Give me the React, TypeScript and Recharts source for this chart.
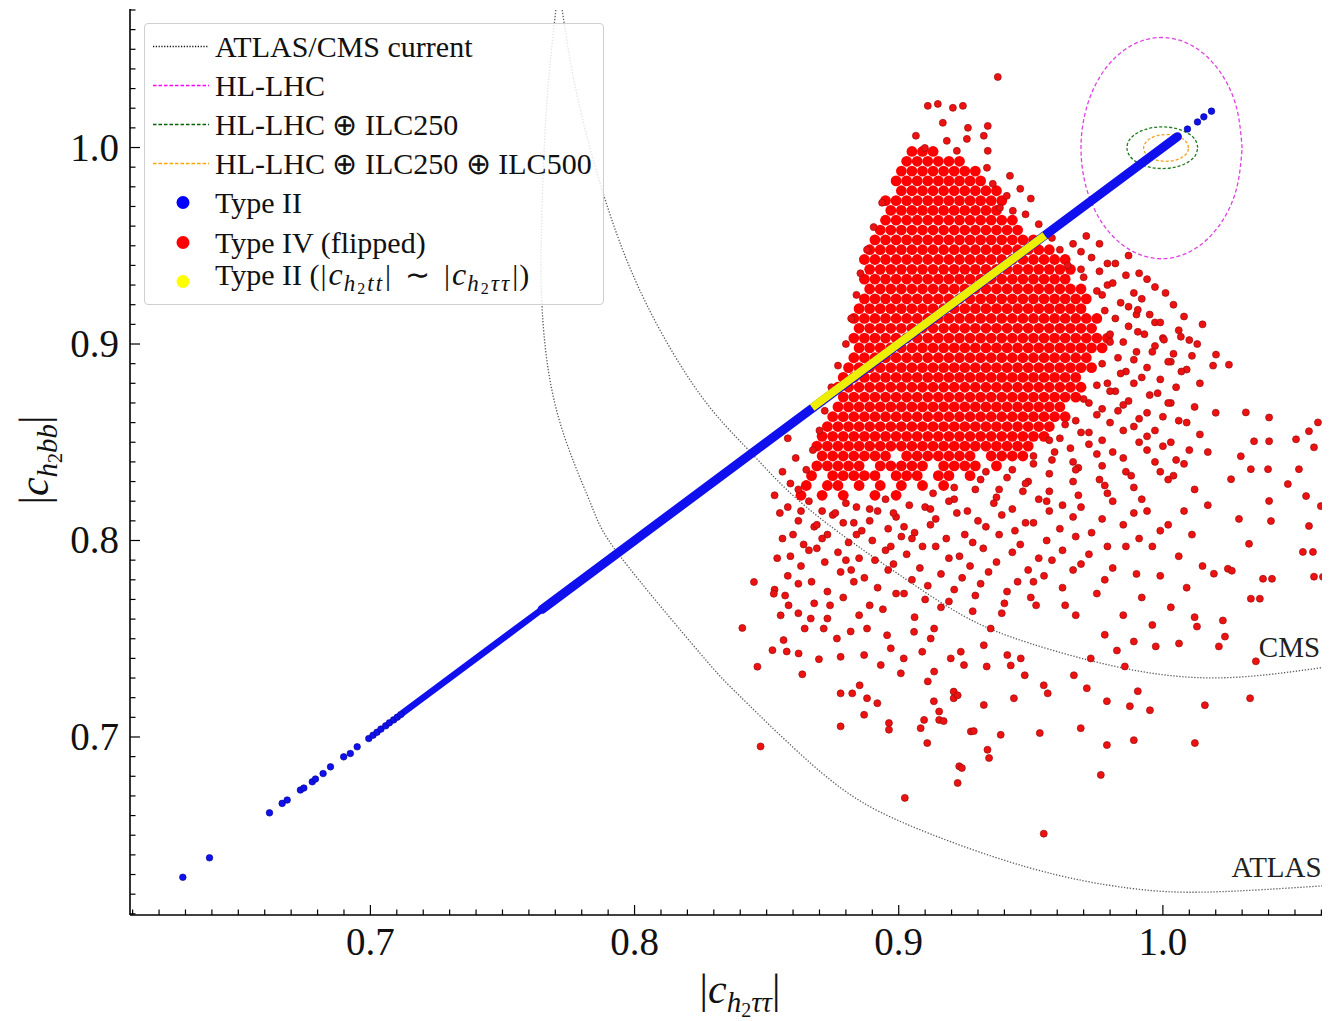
import React from 'react';
import { ComposedChart, Scatter, Line, XAxis, YAxis } from 'recharts';

const FONT = '"Liberation Serif", "Times New Roman", Times, serif';

// ---------- axes ----------
const xDomain: [number, number] = [0.609, 1.0625];
const yDomain: [number, number] = [0.6094, 1.0705];
const majorTicks = [0.7, 0.8, 0.9, 1.0];
const xTickValues = [0.61, 0.62, 0.63, 0.64, 0.65, 0.66, 0.67, 0.68, 0.69, 0.7, 0.71, 0.72, 0.73, 0.74, 0.75, 0.76, 0.77, 0.78, 0.79, 0.8, 0.81, 0.82, 0.83, 0.84, 0.85, 0.86, 0.87, 0.88, 0.89, 0.9, 0.91, 0.92, 0.93, 0.94, 0.95, 0.96, 0.97, 0.98, 0.99, 1.0, 1.01, 1.02, 1.03, 1.04, 1.05, 1.06];
const yTickValues = [0.61, 0.62, 0.63, 0.64, 0.65, 0.66, 0.67, 0.68, 0.69, 0.7, 0.71, 0.72, 0.73, 0.74, 0.75, 0.76, 0.77, 0.78, 0.79, 0.8, 0.81, 0.82, 0.83, 0.84, 0.85, 0.86, 0.87, 0.88, 0.89, 0.9, 0.91, 0.92, 0.93, 0.94, 0.95, 0.96, 0.97, 0.98, 0.99, 1.0, 1.01, 1.02, 1.03, 1.04, 1.05, 1.06, 1.07];

// ---------- current ATLAS / CMS contours ----------
const atlasCurve: [number, number][] = [
  [0.7702, 1.07], [0.7672, 1.03], [0.7655, 0.99], [0.7647, 0.953], [0.7651, 0.916], [0.7707, 0.8651],
  [0.7832, 0.8194], [0.7946, 0.7919], [0.8248, 0.7426], [0.8403, 0.7202], [0.871, 0.6816], [0.902, 0.6562],
  [0.9485, 0.6338], [0.9871, 0.6231], [1.0177, 0.6211], [1.0623, 0.6244],
];
const cmsCurve: [number, number][] = [
  [0.7726, 1.07], [0.7787, 1.0237], [0.79, 0.9688], [0.8048, 0.9195], [0.8248, 0.8743], [0.8426, 0.8468],
  [0.86, 0.8229], [0.8815, 0.8], [0.9005, 0.7823], [0.9243, 0.7618], [0.9496, 0.7477], [0.9852, 0.735],
  [1.0222, 0.7301], [1.0623, 0.7357],
];
const curveLabels = [
  { x: 1.0595, y: 0.7406, label: 'CMS' },
  { x: 1.0601, y: 0.6287, label: 'ATLAS' },
];

// ---------- future projections (closed contours) ----------
const hlLhcContour: [number, number][] = [
  [1.03, 0.9997], [1.0277, 1.0212], [1.0211, 1.0395], [1.0112, 1.0517], [0.9995, 1.056], [0.9878, 1.0517],
  [0.9779, 1.0395], [0.9713, 1.0212], [0.969, 0.9997], [0.9713, 0.9782], [0.9779, 0.9599], [0.9878, 0.9477],
  [0.9995, 0.9434], [1.0112, 0.9477], [1.0211, 0.9599], [1.0277, 0.9782], [1.03, 0.9997],
];
const ilc250Contour: [number, number][] = [
  [1.0132, 0.9999], [1.0122, 1.004], [1.0093, 1.0074], [1.005, 1.0097], [0.9998, 1.0105], [0.9946, 1.0097],
  [0.9903, 1.0074], [0.9874, 1.004], [0.9864, 0.9999], [0.9874, 0.9958], [0.9903, 0.9924], [0.9946, 0.9901],
  [0.9998, 0.9893], [1.005, 0.9901], [1.0093, 0.9924], [1.0122, 0.9958], [1.0132, 0.9999],
];
const ilc500Contour: [number, number][] = [
  [1.0097, 0.9998], [1.0091, 1.0024], [1.0072, 1.0046], [1.0045, 1.0061], [1.0012, 1.0066], [0.9979, 1.0061],
  [0.9952, 1.0046], [0.9934, 1.0024], [0.9927, 0.9998], [0.9934, 0.9972], [0.9952, 0.995], [0.9979, 0.9935],
  [1.0012, 0.993], [1.0045, 0.9935], [1.0072, 0.995], [1.0091, 0.9972], [1.0097, 0.9998],
];

// ---------- Type II ----------
const typeIIBandLower: [number, number][] = [[0.712, 0.712], [0.765, 0.765]];
const typeIIBandUpper: [number, number][] = [[0.765, 0.765], [1.0055, 1.0055]];
const typeIIPoints: [number, number][] = [
  [0.629, 0.6286], [0.6391, 0.6385], [0.6618, 0.6614], [0.6666, 0.6662], [0.6685, 0.6679], [0.6735, 0.673],
  [0.6748, 0.674], [0.678, 0.6772], [0.6792, 0.6786], [0.6821, 0.6814], [0.6849, 0.6848], [0.6899, 0.6899],
  [0.6924, 0.6916], [0.695, 0.695], [0.6994, 0.6992], [0.701, 0.7009], [0.7025, 0.7024], [0.704, 0.704],
  [0.7058, 0.7057], [0.7072, 0.7072], [0.7088, 0.7087], [0.7102, 0.7101], [0.7115, 0.7114],
  [1.0093, 1.0094], [1.0131, 1.013], [1.0155, 1.0156], [1.0184, 1.0185],
];
// Type II with |c_h2tt| ~ |c_h2tautau|
const typeIISpecialBand: [number, number][] = [[0.8672, 0.8677], [0.9553, 0.9553]];

// ---------- Type IV (flipped) ----------
// dense core, rows of [|c_h2bb|, list of |c_h2tautau|]
const typeIVCoreRows: [number, number[]][] = [
  [0.998, [0.905, 0.909, 0.913]],
  [0.993, [0.903, 0.907, 0.911, 0.915, 0.919, 0.923]],
  [0.988, [0.901, 0.905, 0.909, 0.913, 0.917, 0.921, 0.925, 0.929]],
  [0.983, [0.899, 0.903, 0.907, 0.911, 0.915, 0.919, 0.923, 0.927, 0.931]],
  [0.978, [0.901, 0.905, 0.909, 0.913, 0.917, 0.921, 0.925, 0.929, 0.933, 0.937]],
  [0.973, [0.895, 0.899, 0.903, 0.907, 0.911, 0.915, 0.919, 0.923, 0.927, 0.931, 0.935, 0.939]],
  [0.968, [0.897, 0.901, 0.905, 0.909, 0.913, 0.917, 0.921, 0.925, 0.929, 0.933, 0.937]],
  [0.963, [0.895, 0.899, 0.903, 0.907, 0.911, 0.915, 0.919, 0.923, 0.927, 0.931, 0.935, 0.939, 0.943]],
  [0.958, [0.893, 0.897, 0.901, 0.905, 0.909, 0.913, 0.917, 0.921, 0.925, 0.929, 0.933, 0.937, 0.941, 0.945]],
  [0.953, [0.891, 0.895, 0.899, 0.903, 0.907, 0.911, 0.915, 0.919, 0.923, 0.927, 0.931, 0.935, 0.939, 0.943, 0.947, 0.951]],
  [0.948, [0.889, 0.893, 0.897, 0.901, 0.905, 0.909, 0.913, 0.917, 0.921, 0.925, 0.929, 0.933, 0.937, 0.941, 0.945, 0.949, 0.953, 0.957]],
  [0.943, [0.887, 0.891, 0.895, 0.899, 0.903, 0.907, 0.911, 0.915, 0.919, 0.923, 0.927, 0.931, 0.935, 0.939, 0.943, 0.947, 0.951, 0.955, 0.959, 0.963]],
  [0.938, [0.889, 0.893, 0.897, 0.901, 0.905, 0.909, 0.913, 0.917, 0.921, 0.925, 0.929, 0.933, 0.937, 0.941, 0.945, 0.949, 0.953, 0.957, 0.961, 0.965]],
  [0.933, [0.887, 0.891, 0.895, 0.899, 0.903, 0.907, 0.911, 0.915, 0.919, 0.923, 0.927, 0.931, 0.935, 0.939, 0.943, 0.947, 0.951, 0.955, 0.959, 0.963]],
  [0.928, [0.889, 0.893, 0.897, 0.901, 0.905, 0.909, 0.913, 0.917, 0.921, 0.925, 0.929, 0.933, 0.937, 0.941, 0.945, 0.949, 0.953, 0.957, 0.961, 0.965, 0.969]],
  [0.923, [0.887, 0.891, 0.895, 0.899, 0.903, 0.907, 0.911, 0.915, 0.919, 0.923, 0.927, 0.931, 0.935, 0.939, 0.943, 0.947, 0.951, 0.955, 0.959, 0.963, 0.967, 0.971]],
  [0.918, [0.885, 0.889, 0.893, 0.897, 0.901, 0.905, 0.909, 0.913, 0.917, 0.921, 0.925, 0.929, 0.933, 0.937, 0.941, 0.945, 0.949, 0.953, 0.957, 0.961, 0.965, 0.969]],
  [0.913, [0.883, 0.887, 0.891, 0.895, 0.899, 0.903, 0.907, 0.911, 0.915, 0.919, 0.923, 0.927, 0.931, 0.935, 0.939, 0.943, 0.947, 0.951, 0.955, 0.959, 0.963, 0.967, 0.971, 0.975]],
  [0.908, [0.885, 0.889, 0.893, 0.897, 0.901, 0.905, 0.909, 0.913, 0.917, 0.921, 0.925, 0.929, 0.933, 0.937, 0.941, 0.945, 0.949, 0.953, 0.957, 0.961, 0.965, 0.969, 0.973]],
  [0.903, [0.883, 0.887, 0.891, 0.895, 0.899, 0.903, 0.907, 0.911, 0.915, 0.919, 0.923, 0.927, 0.931, 0.935, 0.939, 0.943, 0.947, 0.951, 0.955, 0.959, 0.963, 0.967, 0.971, 0.975, 0.979]],
  [0.898, [0.885, 0.889, 0.893, 0.897, 0.901, 0.905, 0.909, 0.913, 0.917, 0.921, 0.925, 0.929, 0.933, 0.937, 0.941, 0.945, 0.949, 0.953, 0.957, 0.961, 0.965, 0.969, 0.973, 0.977]],
  [0.893, [0.883, 0.887, 0.891, 0.895, 0.899, 0.903, 0.907, 0.911, 0.915, 0.919, 0.923, 0.927, 0.931, 0.935, 0.939, 0.943, 0.947, 0.951, 0.955, 0.959, 0.963, 0.967, 0.971]],
  [0.888, [0.881, 0.885, 0.889, 0.893, 0.897, 0.901, 0.905, 0.909, 0.913, 0.917, 0.921, 0.925, 0.929, 0.933, 0.937, 0.941, 0.945, 0.949, 0.953, 0.957, 0.961, 0.965, 0.969, 0.973]],
  [0.883, [0.879, 0.883, 0.887, 0.891, 0.895, 0.899, 0.903, 0.907, 0.911, 0.915, 0.919, 0.923, 0.927, 0.931, 0.935, 0.939, 0.943, 0.947, 0.951, 0.955, 0.959, 0.963, 0.967]],
  [0.878, [0.877, 0.881, 0.885, 0.889, 0.893, 0.897, 0.901, 0.905, 0.909, 0.913, 0.917, 0.921, 0.925, 0.929, 0.933, 0.937, 0.941, 0.945, 0.949, 0.953, 0.957, 0.961, 0.965, 0.969]],
  [0.873, [0.879, 0.883, 0.887, 0.891, 0.895, 0.899, 0.903, 0.907, 0.911, 0.915, 0.919, 0.923, 0.927, 0.931, 0.935, 0.939, 0.943, 0.947, 0.951, 0.955, 0.959, 0.963, 0.967]],
  [0.868, [0.877, 0.881, 0.885, 0.889, 0.893, 0.897, 0.901, 0.905, 0.909, 0.913, 0.917, 0.921, 0.925, 0.929, 0.933, 0.937, 0.941, 0.945, 0.949, 0.953, 0.957, 0.961]],
  [0.863, [0.875, 0.879, 0.883, 0.887, 0.891, 0.895, 0.899, 0.903, 0.907, 0.911, 0.915, 0.919, 0.923, 0.927, 0.931, 0.935, 0.939, 0.943, 0.947, 0.951, 0.955, 0.959, 0.963]],
  [0.858, [0.873, 0.877, 0.881, 0.885, 0.889, 0.893, 0.897, 0.901, 0.905, 0.909, 0.913, 0.917, 0.921, 0.925, 0.929, 0.933, 0.937, 0.941, 0.945, 0.949, 0.953, 0.957]],
  [0.853, [0.871, 0.875, 0.879, 0.883, 0.887, 0.891, 0.895, 0.899, 0.903, 0.907, 0.911, 0.915, 0.919, 0.923, 0.927, 0.931, 0.935, 0.939, 0.943, 0.947, 0.951, 0.955]],
  [0.848, [0.869, 0.873, 0.877, 0.881, 0.885, 0.889, 0.893, 0.897, 0.901, 0.905, 0.909, 0.913, 0.917, 0.921, 0.925, 0.929, 0.933, 0.937, 0.941, 0.945, 0.949]],
  [0.843, [0.871, 0.875, 0.879, 0.883, 0.887, 0.891, 0.895, 0.903, 0.907, 0.911, 0.915, 0.919, 0.923, 0.927, 0.935, 0.939, 0.943, 0.947]],
  [0.838, [0.869, 0.873, 0.877, 0.881, 0.885, 0.893, 0.897, 0.901, 0.905, 0.909, 0.917, 0.921, 0.925, 0.929, 0.937]],
  [0.833, [0.867, 0.875, 0.879, 0.883, 0.887, 0.891, 0.899, 0.903, 0.907, 0.915, 0.919, 0.927]],
  [0.828, [0.865, 0.873, 0.877, 0.885, 0.893, 0.901, 0.909, 0.917]],
  [0.823, [0.863, 0.871, 0.879, 0.891, 0.899]],
];

// medium-density fringe [|c_h2tautau|, |c_h2bb|]
const typeIVFringe: [number, number][] = [
  [0.958, 0.954], [0.966, 0.951], [0.971, 0.955], [0.961, 0.948], [0.969, 0.947], [0.976, 0.951],
  [0.964, 0.94], [0.973, 0.944], [0.979, 0.941], [0.987, 0.945], [0.969, 0.938], [0.976, 0.937],
  [0.982, 0.941], [0.991, 0.936], [0.97, 0.934], [0.979, 0.93], [0.986, 0.935], [0.994, 0.933],
  [0.975, 0.927], [0.981, 0.931], [0.989, 0.926], [0.997, 0.929], [0.977, 0.925], [0.984, 0.921],
  [0.992, 0.923], [1.001, 0.926], [0.978, 0.917], [0.987, 0.919], [0.995, 0.915], [1.004, 0.92],
  [0.982, 0.913], [0.99, 0.915], [0.997, 0.911], [1.008, 0.914], [0.98, 0.905], [0.987, 0.909],
  [0.999, 0.911], [1.006, 0.907], [1.015, 0.91], [0.985, 0.901], [0.993, 0.905], [1.0, 0.903],
  [1.01, 0.902], [0.98, 0.901], [0.99, 0.896], [0.997, 0.899], [1.004, 0.895], [1.013, 0.9],
  [0.983, 0.893], [0.989, 0.892], [0.996, 0.896], [1.003, 0.891], [1.011, 0.894], [0.977, 0.89],
  [0.986, 0.886], [0.994, 0.888], [1.002, 0.891], [1.009, 0.887], [1.019, 0.889], [0.979, 0.88],
  [0.984, 0.885], [0.992, 0.883], [0.999, 0.882], [1.007, 0.886], [0.975, 0.879], [0.982, 0.876],
  [0.989, 0.88], [0.998, 0.875], [1.005, 0.878], [1.014, 0.88], [0.97, 0.872], [0.98, 0.876],
  [0.987, 0.871], [0.995, 0.874], [1.003, 0.87], [0.972, 0.87], [0.977, 0.867], [0.985, 0.869],
  [0.994, 0.865], [1.002, 0.87], [1.012, 0.868], [0.967, 0.861], [0.975, 0.864], [0.983, 0.866],
  [0.991, 0.862], [1.0, 0.863], [1.009, 0.86], [1.02, 0.865], [0.963, 0.859], [0.972, 0.855],
  [0.98, 0.86], [0.989, 0.858], [0.997, 0.856], [1.006, 0.861], [0.961, 0.852], [0.969, 0.855],
  [0.977, 0.851], [0.985, 0.856], [0.994, 0.853], [1.003, 0.85], [1.014, 0.854], [0.957, 0.851],
  [0.965, 0.847], [0.972, 0.849], [0.981, 0.845], [0.991, 0.85], [1.0, 0.848], [1.01, 0.846],
  [0.951, 0.843], [0.959, 0.845], [0.966, 0.84], [0.975, 0.844], [0.985, 0.842], [0.994, 0.846],
  [1.005, 0.841], [1.017, 0.845], [0.943, 0.836], [0.951, 0.839], [0.958, 0.841], [0.968, 0.837],
  [0.977, 0.838], [0.986, 0.835], [0.997, 0.84], [1.008, 0.839], [0.933, 0.835], [0.941, 0.832],
  [0.949, 0.83], [0.957, 0.834], [0.967, 0.836], [0.976, 0.831], [0.988, 0.833], [0.999, 0.835],
  [0.921, 0.827], [0.931, 0.831], [0.938, 0.826], [0.948, 0.829], [0.957, 0.825], [0.966, 0.83],
  [0.978, 0.828], [0.989, 0.827], [1.002, 0.831], [0.913, 0.824], [0.921, 0.821], [0.929, 0.826],
  [0.937, 0.822], [0.947, 0.825], [0.956, 0.82], [0.968, 0.823], [0.979, 0.824], [0.992, 0.821],
  [0.858, 0.817], [0.866, 0.82], [0.871, 0.815], [0.88, 0.819], [0.889, 0.816], [0.895, 0.821],
  [0.904, 0.818], [0.91, 0.817], [0.919, 0.82], [0.926, 0.815], [0.936, 0.819], [0.943, 0.816],
  [0.953, 0.821], [0.962, 0.818], [0.969, 0.817], [0.981, 0.82], [0.994, 0.815],
  [0.855, 0.814], [0.862, 0.81], [0.875, 0.813], [0.883, 0.809], [0.892, 0.815], [0.899, 0.812],
  [0.914, 0.811], [0.922, 0.814], [0.93, 0.81], [0.939, 0.813], [0.948, 0.809], [0.957, 0.815],
  [0.966, 0.812], [0.977, 0.811], [0.989, 0.814],
  [0.86, 0.803], [0.868, 0.807], [0.879, 0.809], [0.886, 0.805], [0.896, 0.806], [0.906, 0.804],
  [0.912, 0.808], [0.925, 0.803], [0.933, 0.807], [0.944, 0.805], [0.951, 0.809], [0.961, 0.806],
  [0.973, 0.804], [0.985, 0.808], [0.999, 0.805],
  [0.856, 0.801], [0.864, 0.798], [0.873, 0.803], [0.881, 0.799], [0.89, 0.8], [0.901, 0.802],
  [0.909, 0.797], [0.918, 0.801], [0.928, 0.799], [0.938, 0.803], [0.946, 0.798], [0.956, 0.8],
  [0.967, 0.802], [0.979, 0.797], [0.991, 0.801],
  [0.859, 0.792], [0.869, 0.796], [0.877, 0.794], [0.885, 0.791], [0.895, 0.795], [0.903, 0.793],
  [0.914, 0.797], [0.923, 0.792], [0.932, 0.796], [0.943, 0.794], [0.953, 0.791], [0.962, 0.795],
  [0.972, 0.793], [0.986, 0.797],
  [0.854, 0.791], [0.863, 0.787], [0.872, 0.789], [0.882, 0.785], [0.891, 0.79], [0.898, 0.788],
  [0.908, 0.786], [0.919, 0.791], [0.927, 0.787], [0.937, 0.789], [0.949, 0.785], [0.958, 0.79],
  [0.969, 0.788], [0.981, 0.786],
  [0.858, 0.782], [0.867, 0.779], [0.878, 0.784], [0.887, 0.781], [0.896, 0.785], [0.905, 0.78],
  [0.916, 0.783], [0.924, 0.781], [0.934, 0.784], [0.945, 0.779], [0.955, 0.782], [0.966, 0.785],
  [0.978, 0.78], [0.99, 0.783],
  [0.853, 0.775], [0.862, 0.778], [0.873, 0.774], [0.883, 0.779], [0.892, 0.776], [0.902, 0.773],
  [0.911, 0.777], [0.921, 0.775], [0.931, 0.778], [0.941, 0.774], [0.951, 0.779], [0.962, 0.776],
  [0.975, 0.773],
  [0.857, 0.772], [0.868, 0.768], [0.879, 0.771], [0.889, 0.767], [0.899, 0.773], [0.91, 0.77],
  [0.919, 0.769], [0.929, 0.772], [0.94, 0.768], [0.95, 0.771], [0.963, 0.767],
  [0.862, 0.763], [0.874, 0.767], [0.885, 0.762], [0.894, 0.765], [0.906, 0.761], [0.916, 0.766],
  [0.928, 0.764], [0.939, 0.763], [0.952, 0.767], [0.967, 0.762],
  [0.863, 0.815], [0.876, 0.814], [0.884, 0.817], [0.898, 0.814], [0.912, 0.816], [0.869, 0.808],
  [0.889, 0.81], [0.902, 0.807], [0.871, 0.801], [0.884, 0.803], [0.897, 0.797], [0.866, 0.795],
  [0.88, 0.79], [0.905, 0.801],
];

// isolated points [|c_h2tautau|, |c_h2bb|]
const typeIVScattered: [number, number][] = [
  [0.9375, 1.0359], [0.911, 1.0212], [0.9148, 1.0222], [0.9205, 1.0202], [0.9243, 1.0212], [0.9167, 1.0126],
  [0.9262, 1.01], [0.9337, 1.011], [0.9065, 1.006], [0.9182, 1.0034], [0.9258, 1.0044], [0.9322, 1.006],
  [0.9099, 0.9998], [0.922, 0.9983], [0.9337, 0.9983], [0.9421, 0.9856], [0.9409, 0.9754], [0.9334, 0.9897],
  [0.9356, 0.9815], [0.9383, 0.9693], [0.9432, 0.9678], [0.946, 0.979], [0.95, 0.974], [0.948, 0.966],
  [0.953, 0.961], [0.8937, 0.9719], [0.8905, 0.9595], [0.888, 0.948], [0.8855, 0.936], [0.884, 0.925],
  [0.882, 0.913], [0.88, 0.9], [0.877, 0.889], [0.8745, 0.878], [0.872, 0.866], [0.87, 0.856], [0.8675, 0.846],
  [0.865, 0.836], [0.862, 0.826], [0.858, 0.852], [0.861, 0.842], [0.856, 0.835], [0.859, 0.829], [0.853, 0.823],
  [0.9905, 0.9174], [0.9905, 0.9062], [1.0004, 0.9022], [1.0068, 0.9037], [1.0201, 0.8946], [1.025, 0.8895],
  [1.0314, 0.8652], [1.0402, 0.8626], [1.0587, 0.8601], [1.0553, 0.8556], [1.0504, 0.8515], [1.0572, 0.8474],
  [1.0402, 0.8505], [1.0345, 0.8505], [1.0295, 0.8429], [1.0333, 0.8363], [1.0398, 0.8363], [1.0515, 0.8363],
  [1.0258, 0.8312], [1.0473, 0.8287], [1.0542, 0.8226], [1.0618, 0.8277], [1.0402, 0.8201], [1.0598, 0.8175],
  [1.0409, 0.8099], [1.0288, 0.811], [1.0553, 0.8074], [1.0618, 0.8049], [1.0326, 0.7983], [1.053, 0.7942],
  [1.0572, 0.7816], [1.0617, 0.7866], [1.0379, 0.7805], [1.0333, 0.7704], [1.0246, 0.7856], [1.0193, 0.7831],
  [1.0227, 0.7593], [1.004, 0.833], [1.012, 0.826], [1.008, 0.815], [1.017, 0.818], [1.002, 0.808],
  [1.011, 0.803], [0.996, 0.797], [1.006, 0.792], [1.015, 0.787], [0.999, 0.782], [1.009, 0.776],
  [0.992, 0.771], [1.003, 0.766], [0.985, 0.762], [0.996, 0.757], [1.012, 0.761], [0.978, 0.752],
  [0.8452, 0.7789], [0.8408, 0.7555], [0.8465, 0.7358], [0.8635, 0.7319], [0.8477, 0.6952], [0.8698, 0.7396],
  [0.878, 0.7408], [0.878, 0.7222], [0.8824, 0.7222], [0.888, 0.7197], [0.8919, 0.7172], [0.8869, 0.7113],
  [0.8963, 0.7071], [0.8963, 0.7037], [0.9083, 0.7045], [0.9096, 0.7087], [0.9153, 0.713], [0.9153, 0.7087],
  [0.9273, 0.7028], [0.9386, 0.7011], [0.9336, 0.6935], [0.9342, 0.6893], [0.9229, 0.6851], [0.9108, 0.6969],
  [0.878, 0.7054], [0.8564, 0.7493], [0.8621, 0.7425], [0.8522, 0.7442], [0.8553, 0.7619], [0.8583, 0.767],
  [0.8527, 0.7729], [0.8716, 0.7552], [0.873, 0.7603], [0.8667, 0.7603], [0.8766, 0.7501], [0.8818, 0.7537],
  [0.888, 0.7552], [0.8869, 0.7417], [0.8932, 0.7366], [0.9019, 0.74], [0.9008, 0.7324], [0.9089, 0.7434],
  [0.9121, 0.7501], [0.9134, 0.7552], [0.9058, 0.7535], [0.8956, 0.7518], [0.897, 0.7451], [0.9134, 0.7333],
  [0.9197, 0.74], [0.9235, 0.7434], [0.9247, 0.7366], [0.9322, 0.7467], [0.9348, 0.7552], [0.9411, 0.7417],
  [0.9462, 0.74], [0.9436, 0.7197], [0.9322, 0.7163], [0.9208, 0.7231], [0.9208, 0.7197],
  [0.9023, 0.669], [0.9223, 0.6766], [0.9239, 0.6842], [0.9549, 0.6508], [0.9765, 0.6807], [0.9788, 0.6959],
  [0.989, 0.6984], [1.0121, 0.6969], [1.033, 0.7197], [1.0159, 0.7162], [0.9951, 0.7136], [0.9875, 0.7157],
  [0.9689, 0.7045], [0.9534, 0.702], [0.9284, 0.703], [0.917, 0.7081], [0.9133, 0.7182], [0.9223, 0.7212],
  [0.9564, 0.7222], [0.9549, 0.7263], [0.9712, 0.7248], [0.9788, 0.7182], [0.9905, 0.7233], [1.0352, 0.7385],
  [1.0413, 0.7805], [1.0367, 0.7704], [1.0606, 0.7815], [1.0568, 0.7942], [1.0261, 0.7846], [1.0212, 0.7461],
  [1.0235, 0.7511], [1.0129, 0.7562], [1.0061, 0.7476], [0.9973, 0.7461], [0.989, 0.7486], [0.9826, 0.744],
  [0.9856, 0.7359], [0.9727, 0.74], [0.9663, 0.7314], [0.9477, 0.7314], [0.9424, 0.7364], [0.9333, 0.7359],
  [0.911, 0.7283], [0.8852, 0.7263], [0.8576, 0.7435], [0.8644, 0.7552],
];

// ---------- legend ----------
const legendEntries = [
  { label: 'ATLAS/CMS current', kind: 'line', color: '#111111', dash: '1.2 1.6' },
  { label: 'HL-LHC', kind: 'line', color: '#ff00ff', dash: '3.5 2' },
  { label: 'HL-LHC ⊕ ILC250', kind: 'line', color: '#006400', dash: '3.5 2' },
  { label: 'HL-LHC ⊕ ILC250 ⊕ ILC500', kind: 'line', color: '#ffa500', dash: '3.5 2' },
  { label: 'Type II', kind: 'dot', color: '#0000ff' },
  { label: 'Type IV  (flipped)', kind: 'dot', color: '#ff0000' },
  { label: 'special', kind: 'dot', color: '#ffff00' },
];

// ---------- helpers ----------
const toXY = (pairs: [number, number][]) => pairs.map(([x, y]) => ({ x, y }));
const rowsToXY = (rows: [number, number[]][]) => rows.flatMap(([y, xs]) => xs.map((x) => ({ x, y })));
const isMajor = (v: number) => majorTicks.some((m) => Math.abs(m - v) < 1e-9);

const BottomTick = (props: any) => {
  const { x, y, payload } = props;
  const major = isMajor(payload.value);
  return (
    <g>
      <line x1={x} x2={x} y1={y} y2={y - (major ? 10 : 5.5)} stroke="#000" strokeWidth={1.2} />
      {major ? (
        <text x={x} y={y + 40} textAnchor="middle" fontFamily={FONT} fontSize={39} fill="#111">
          {payload.value.toFixed(1)}
        </text>
      ) : null}
    </g>
  );
};
const LeftTick = (props: any) => {
  const { x, y, payload } = props;
  const major = isMajor(payload.value);
  return (
    <g>
      <line x1={x} x2={x + (major ? 10 : 5.5)} y1={y} y2={y} stroke="#000" strokeWidth={1.2} />
      {major ? (
        <text x={x - 11} y={y + 13} textAnchor="end" fontFamily={FONT} fontSize={39} fill="#111">
          {payload.value.toFixed(1)}
        </text>
      ) : null}
    </g>
  );
};
const TopTick = (props: any) => {
  const { x, y, payload } = props;
  const major = isMajor(payload.value);
  return <line x1={x} x2={x} y1={y} y2={y + (major ? 10 : 5.5)} stroke="#000" strokeWidth={1.2} />;
};
const RightTick = (props: any) => {
  const { x, y, payload } = props;
  const major = isMajor(payload.value);
  return <line x1={x} x2={x - (major ? 10 : 5.5)} y1={y} y2={y} stroke="#000" strokeWidth={1.2} />;
};

const XTitle = (props: any) => {
  const vb = props.viewBox || { x: 122, y: 907, width: 1198, height: 106 };
  const cx = vb.x + vb.width / 2 + 11;
  const by = vb.y + 88;
  return (
    <text x={cx} y={by} textAnchor="middle" fontFamily={FONT} fontSize={42} fill="#111">
      <tspan>|</tspan>
      <tspan fontStyle="italic">c</tspan>
      <tspan fontSize={29} fontStyle="italic" dy={9}>h</tspan>
      <tspan fontSize={20} dy={5}>2</tspan>
      <tspan fontSize={29} fontStyle="italic" dy={-5}>ττ</tspan>
      <tspan dy={-9}>|</tspan>
    </text>
  );
};
const YTitle = (props: any) => {
  const vb = props.viewBox || { x: 0, y: 1, width: 122, height: 906 };
  const cx = vb.x + 40;
  const cy = vb.y + vb.height / 2 - 2;
  return (
    <text x={cx} y={cy} transform={`rotate(-90, ${cx}, ${cy})`} textAnchor="middle" fontFamily={FONT} fontSize={42} fill="#111">
      <tspan>|</tspan>
      <tspan fontStyle="italic">c</tspan>
      <tspan fontSize={29} fontStyle="italic" dy={9}>h</tspan>
      <tspan fontSize={20} dy={5}>2</tspan>
      <tspan fontSize={29} fontStyle="italic" dy={-5}>bb</tspan>
      <tspan dy={-9}>|</tspan>
    </text>
  );
};

const CoreDot = (p: any) => <circle cx={p.cx} cy={p.cy} r={5.4} fill="#ff0000" />;
const FringeDot = (p: any) => <circle cx={p.cx} cy={p.cy} r={3.5} fill="#ee1111" stroke="#9a0d0d" strokeWidth={0.7} />;
const BlueDot = (p: any) => <circle cx={p.cx} cy={p.cy} r={3.3} fill="#1010ee" stroke="#00008b" strokeWidth={0.6} />;
const NoDot = () => <g />;
const CurveLabel = (p: any) => (
  <text x={p.cx} y={p.cy} textAnchor="end" fontFamily={FONT} fontSize={29} fill="#222">
    {p.payload.label}
  </text>
);

const SubMath = ({ sub }: { sub: string }) => (
  <span style={{ fontSize: 23, fontStyle: 'italic', verticalAlign: '-6px', letterSpacing: 2 }}>
    h<span style={{ fontSize: 16, fontStyle: 'normal', verticalAlign: '-3px' }}>2</span>
    {sub}
  </span>
);

const LegendBox = () => (
  <div
    style={{
      position: 'absolute', left: 136, top: 15, width: 460, height: 282,
      border: '1px solid #cfcfcf', borderRadius: 4, background: 'rgba(255,255,255,0.82)',
      fontFamily: FONT, fontSize: 30, color: '#111', boxSizing: 'border-box',
    }}
  >
    {legendEntries.map((e, i) => (
      <div key={i} style={{ position: 'absolute', left: 0, top: 2.5 + i * 39.2, height: 39, display: 'flex', alignItems: 'center', whiteSpace: 'nowrap' }}>
        <svg width={70} height={39} style={{ flex: 'none' }}>
          {e.kind === 'line' ? (
            <line x1={8} x2={64} y1={19.5} y2={19.5} stroke={e.color} strokeWidth={1.3} strokeDasharray={e.dash} />
          ) : (
            <circle cx={38} cy={19.5} r={6.5} fill={e.color} />
          )}
        </svg>
        <span style={{ lineHeight: '39px' }}>
          {e.label === 'special' ? (
            <>
              Type II (<span style={{ margin: '0 1px' }}>|</span><i style={{ fontSize: 32, margin: '0 1px' }}>c</i><SubMath sub="tt" /><span style={{ margin: '0 1px' }}>|</span>
              <span style={{ margin: '0 13px' }}>∼</span><span style={{ margin: '0 1px' }}>|</span><i style={{ fontSize: 32, margin: '0 1px' }}>c</i><SubMath sub="ττ" /><span style={{ margin: '0 1px' }}>|</span>)
            </>
          ) : (
            e.label
          )}
        </span>
      </div>
    ))}
  </div>
);

export default function App() {
  const axisLine = { stroke: '#000', strokeWidth: 1.6 };
  const dottedCurve = { stroke: '#5a5a5a', strokeWidth: 1.3, strokeDasharray: '1.3 1.7' };
  return (
    <div style={{ position: 'relative', width: 1322, height: 1013 }}>
      <ComposedChart width={1322} height={1013} margin={{ top: 1, right: 2, bottom: 0, left: 0 }}>
        <XAxis
          type="number" dataKey="x" domain={xDomain} allowDataOverflow ticks={xTickValues} interval={0}
          tick={BottomTick} tickLine={false} tickSize={0} tickMargin={0} height={106} axisLine={axisLine}
          label={<XTitle />}
        />
        <YAxis
          type="number" dataKey="y" domain={yDomain} allowDataOverflow ticks={yTickValues} interval={0}
          tick={LeftTick} tickLine={false} tickSize={0} tickMargin={0} width={122} axisLine={axisLine}
          label={<YTitle />}
        />
        <XAxis
          xAxisId="top" orientation="top" type="number" dataKey="x" domain={xDomain} allowDataOverflow
          ticks={xTickValues} interval={0} tick={TopTick} tickLine={false} tickSize={0} tickMargin={0}
          height={0} axisLine={axisLine}
        />
        <YAxis
          yAxisId="right" orientation="right" type="number" dataKey="y" domain={yDomain} allowDataOverflow
          ticks={yTickValues} interval={0} tick={RightTick} tickLine={false} tickSize={0} tickMargin={0}
          width={0} axisLine={axisLine}
        />

        <Line data={toXY(atlasCurve)} dataKey="y" type="natural" {...dottedCurve} dot={false} activeDot={false} isAnimationActive={false} />
        <Line data={toXY(cmsCurve)} dataKey="y" type="natural" {...dottedCurve} dot={false} activeDot={false} isAnimationActive={false} />
        <Line data={toXY(hlLhcContour)} dataKey="y" type="natural" stroke="#e040e0" strokeWidth={1.3} strokeDasharray="4 2.5" dot={false} activeDot={false} isAnimationActive={false} />
        <Line data={toXY(ilc250Contour)} dataKey="y" type="natural" stroke="#1f7a1f" strokeWidth={1.3} strokeDasharray="3 2" dot={false} activeDot={false} isAnimationActive={false} />
        <Line data={toXY(ilc500Contour)} dataKey="y" type="natural" stroke="#f0a020" strokeWidth={1.3} strokeDasharray="3 2" dot={false} activeDot={false} isAnimationActive={false} />

        <Scatter data={rowsToXY(typeIVCoreRows)} shape={CoreDot} isAnimationActive={false} />
        <Scatter data={toXY(typeIVFringe)} shape={FringeDot} isAnimationActive={false} />
        <Scatter data={toXY(typeIVScattered)} shape={FringeDot} isAnimationActive={false} />

        <Scatter data={toXY(typeIIBandLower)} shape={NoDot} fill="#1010ee" line={{ stroke: '#1010ee', strokeWidth: 6.5 }} isAnimationActive={false} />
        <Scatter data={toXY(typeIIBandUpper)} shape={NoDot} fill="#1010ee" line={{ stroke: '#1010ee', strokeWidth: 9, strokeLinecap: 'round' }} isAnimationActive={false} />
        <Scatter data={toXY(typeIIPoints)} shape={BlueDot} isAnimationActive={false} />
        <Scatter data={toXY(typeIISpecialBand)} shape={NoDot} fill="#eeee00" line={{ stroke: '#eeee00', strokeWidth: 8 }} isAnimationActive={false} />

        <Scatter data={curveLabels} shape={CurveLabel} isAnimationActive={false} />
      </ComposedChart>
      <LegendBox />
    </div>
  );
}
